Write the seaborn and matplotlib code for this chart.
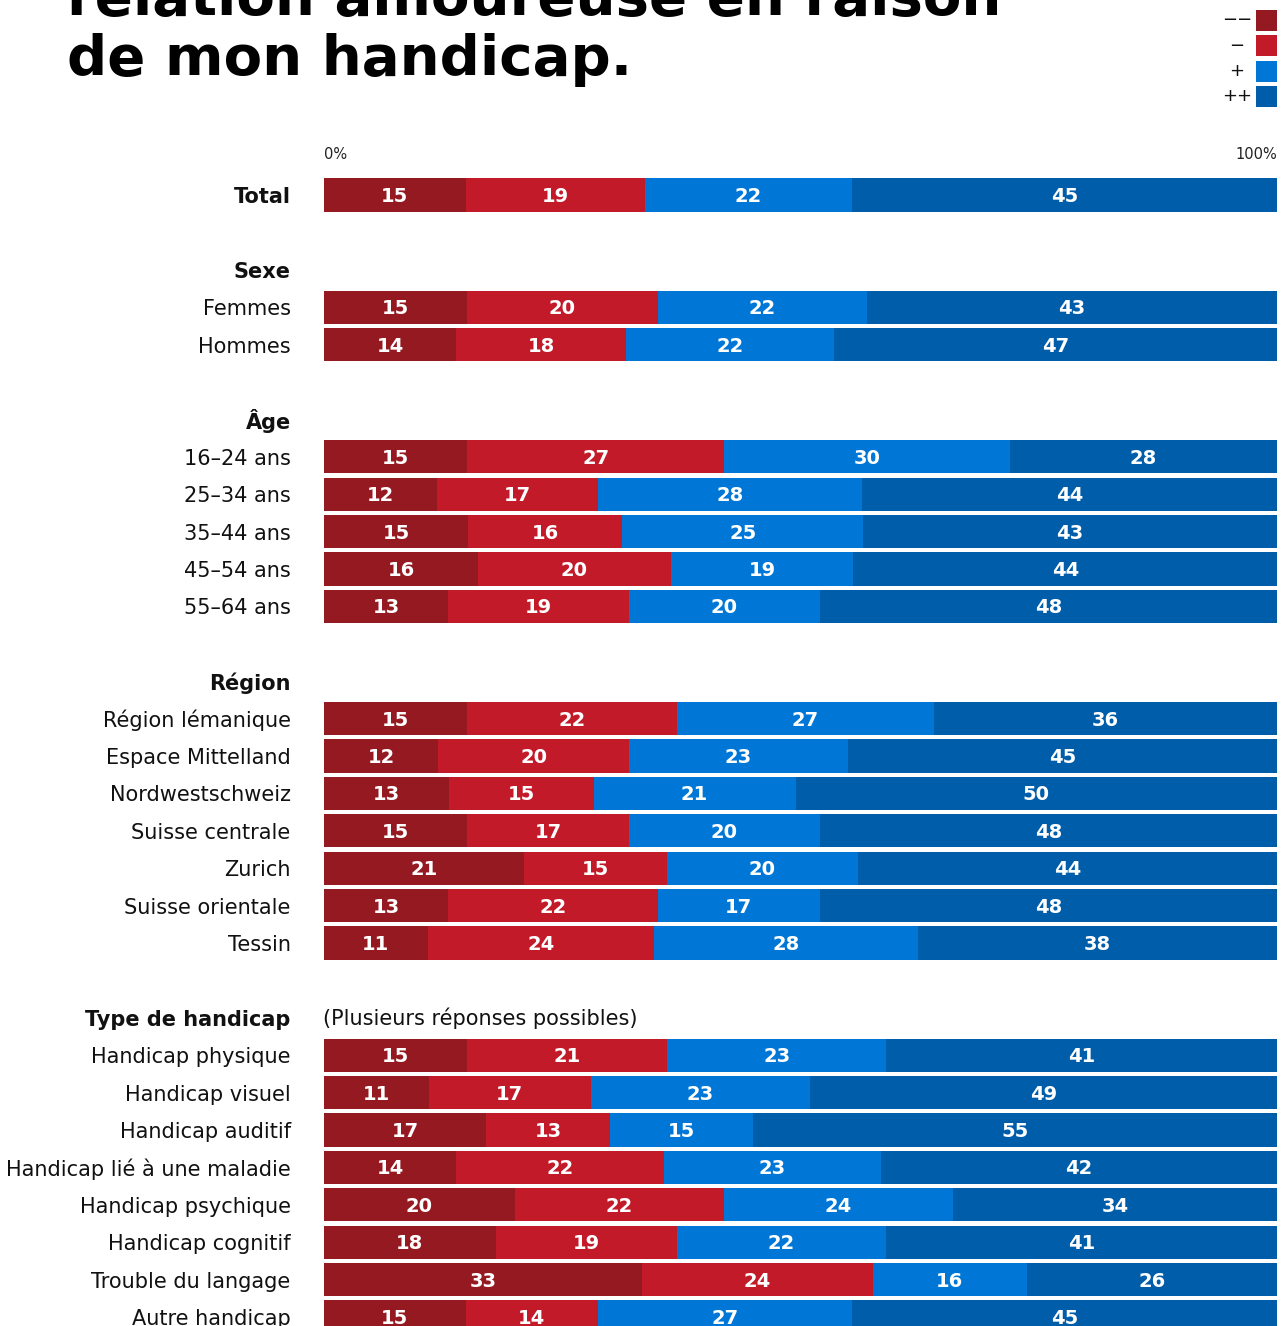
import numpy as np
import pandas as pd
import matplotlib
matplotlib.use("Agg")
import matplotlib.pyplot as plt
from matplotlib.patches import Rectangle
import seaborn as sns

sns.set_theme(style="white")
plt.rcParams["font.family"] = ["DejaVu Sans"]

# ---- data ---------------------------------------------------------------
row_labels = [
    "Total",
    "Femmes", "Hommes",
    "16–24 ans", "25–34 ans", "35–44 ans", "45–54 ans", "55–64 ans",
    "Région lémanique", "Espace Mittelland", "Nordwestschweiz",
    "Suisse centrale", "Zurich", "Suisse orientale", "Tessin",
    "Handicap physique", "Handicap visuel", "Handicap auditif",
    "Handicap lié à une maladie", "Handicap psychique", "Handicap cognitif",
    "Trouble du langage", "Autre handicap",
]
# grid row of each bar (section headers and blank rows sit in between)
row_pos = [0, 3, 4, 7, 8, 9, 10, 11, 14, 15, 16, 17, 18, 19, 20,
           23, 24, 25, 26, 27, 28, 29, 30]

very_negative = [15, 15, 14, 15, 12, 15, 16, 13, 15, 12, 13, 15, 21, 13, 11,
                 15, 11, 17, 14, 20, 18, 33, 15]
negative = [19, 20, 18, 27, 17, 16, 20, 19, 22, 20, 15, 17, 15, 22, 24,
            21, 17, 13, 22, 22, 19, 24, 14]
positive = [22, 22, 22, 30, 28, 25, 19, 20, 27, 23, 21, 20, 20, 17, 28,
            23, 23, 15, 23, 24, 22, 16, 27]
very_positive = [45, 43, 47, 28, 44, 43, 44, 48, 36, 45, 50, 48, 44, 48, 38,
                 41, 49, 55, 42, 34, 41, 26, 45]

headers = {2: "Sexe", 6: "Âge", 13: "Région", 22: "Type de handicap"}
legend_labels = ["−−", "−", "+", "++"]
colors = ["#951921", "#C21A28", "#0077D6", "#005DAA"]

# ---- stacked shares -----------------------------------------------------
vals = np.array([very_negative, negative, positive, very_positive], dtype=float)
shares = vals / vals.sum(axis=0) * 100
ends = np.cumsum(shares, axis=0)
starts = ends - shares

W, H = 1288, 1326
fig = plt.figure(figsize=(W / 100, H / 100), dpi=100)
ax_top_px, ax_bot_px = 140, 1326
ax = fig.add_axes([324 / W, 1 - ax_bot_px / H, (1277 - 324) / W,
                   (ax_bot_px - ax_top_px) / H])

row_px0, row_step = 195, 37.4
ymin = (ax_top_px - row_px0) / row_step
ymax = (ax_bot_px - row_px0) / row_step

# draw cumulative ends from the last segment back so earlier ones overlay
for k in range(3, -1, -1):
    df = pd.DataFrame({"pos": row_pos, "end": ends[k]})
    sns.barplot(data=df, x="end", y="pos", orient="y", native_scale=True,
                width=0.885, color=colors[k], saturation=1, errorbar=None,
                linewidth=0, ax=ax)

for k in range(4):
    for i, p in enumerate(row_pos):
        ax.text((starts[k, i] + ends[k, i]) / 2, p + 0.04, f"{int(vals[k, i])}",
                ha="center", va="center", color="white", fontsize=14,
                fontweight="bold")

ax.set_xlim(0, 100)
ax.set_ylim(ymax, ymin)
ax.set_xticks([])
ax.set_xlabel("")
ax.set_ylabel("")
sns.despine(ax=ax, left=True, bottom=True)

ticks = list(row_pos) + list(headers.keys())
labels = list(row_labels) + list(headers.values())
ax.set_yticks(ticks)
ax.set_yticklabels(labels, fontsize=15, color="#111111")
ax.tick_params(axis="y", length=0, pad=24)
for t in ax.get_yticklabels():
    if t.get_text() in headers.values() or t.get_text() == "Total":
        t.set_fontweight("bold")

# scale ends and note
ax.text(0, -1.07, "0%", ha="left", va="center", fontsize=10.5, color="#222222")
ax.text(100, -1.07, "100%", ha="right", va="center", fontsize=10.5, color="#222222")
ax.text(-0.1, 22, "(Plusieurs réponses possibles)", ha="left", va="center",
        fontsize=15, color="#111111")

# title (first line runs past the top edge)
fig.text(67 / W, 1 - 15 / H, "relation amoureuse en raison", ha="left",
         va="baseline", fontsize=40.5, fontweight="bold", color="black")
fig.text(67 / W, 1 - 75 / H, "de mon handicap.", ha="left", va="baseline",
         fontsize=40.5, fontweight="bold", color="black")

# legend: symbol left of colour square
sq = 21
for i, (lab, c) in enumerate(zip(legend_labels, colors)):
    top = 10 + i * 25.3
    fig.add_artist(Rectangle((1256 / W, 1 - (top + sq) / H), sq / W, sq / H,
                             transform=fig.transFigure, facecolor=c,
                             edgecolor="none"))
    fig.text(1237 / W, 1 - (top + sq / 2) / H, lab, ha="center", va="center",
             fontsize=13, color="#111111")

fig.savefig("out.png", dpi=100)
